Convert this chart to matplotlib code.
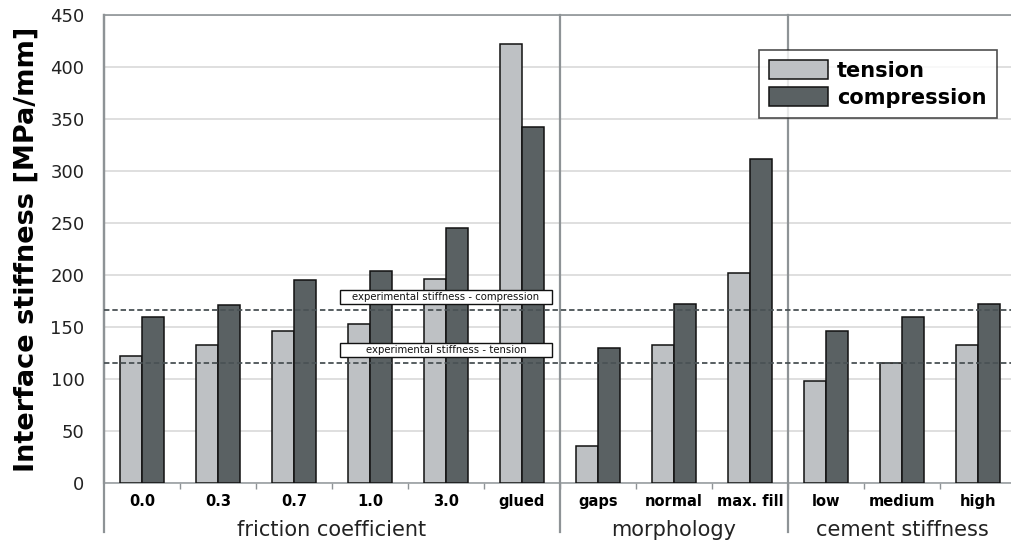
import matplotlib.pyplot as plt
import matplotlib.transforms as mtransforms
from matplotlib.patches import Rectangle
import numpy as np

# --- datos ---
categorias = ["0.0", "0.3", "0.7", "1.0", "3.0", "glued",
              "gaps", "normal", "max. fill",
              "low", "medium", "high"]
tension = [122, 133, 146, 153, 196, 422,
           36, 133, 202,
           98, 115, 133]
compresion = [160, 171, 195, 204, 245, 342,
              130, 172, 312,
              146, 160, 172]
grupos = ["friction coefficient", "morphology", "cement stiffness"]
tam_grupos = [6, 3, 3]
exp_compresion = 166
exp_tension = 115

color_t = "#bec1c4"
color_c = "#5a6163"
gris_eje = "#8e9396"

fig = plt.figure(figsize=(10.11, 5.48), dpi=100)
ax = fig.add_axes([104 / 1011, 65 / 548, 912 / 1011, 468 / 548])

x = np.arange(len(categorias))
w = 0.29
ax.bar(x - w / 2, tension, w, color=color_t, edgecolor="#111111",
       linewidth=1.1, label="tension", zorder=3)
ax.bar(x + w / 2, compresion, w, color=color_c, edgecolor="#111111",
       linewidth=1.1, label="compression", zorder=3)

ax.set_xlim(-0.5, len(categorias) - 0.5)
ax.set_ylim(0, 450)
ax.set_yticks(range(0, 451, 50))
ax.tick_params(axis="y", length=0, labelsize=13, pad=14, labelcolor="#222222")
ax.grid(axis="y", color="#d9d9d9", linewidth=1.2, zorder=0)
ax.set_axisbelow(True)

# etiquetas de categoria
ax.set_xticks(x)
ax.set_xticklabels(categorias, fontsize=10.5, fontweight="bold")
ax.tick_params(axis="x", length=0, pad=8)
ax.set_xticks(np.arange(0.5, len(categorias) - 0.5), minor=True)
ax.tick_params(axis="x", which="minor", length=4, color=gris_eje, width=1)

ax.spines["right"].set_visible(False)
ax.spines["top"].set_color(gris_eje)
ax.spines["top"].set_linewidth(1.2)
ax.spines["left"].set_color(gris_eje)
ax.spines["left"].set_linewidth(1.6)
ax.spines["bottom"].set_color("#9a9fa2")
ax.spines["bottom"].set_linewidth(1.2)

ax.set_ylabel("Interface stiffness [MPa/mm]", fontsize=19.5, fontweight="bold")
ax.yaxis.set_label_coords(-64 / 912, 0.5)

# separadores de grupo y nombres
trans = mtransforms.blended_transform_factory(ax.transData, ax.transAxes)
limites = [-0.5]
for n in tam_grupos:
    limites.append(limites[-1] + n)
for b in limites[:-1]:
    ax.plot([b, b], [1, -0.105], transform=trans, color=gris_eje,
            linewidth=1.6, clip_on=False, zorder=4)
for i, nombre in enumerate(grupos):
    centro = (limites[i] + limites[i + 1]) / 2
    ax.text(centro, -0.101, nombre, transform=trans, ha="center", va="center",
            fontsize=15, color="#222222")

# lineas experimentales
for val, txt in [(exp_compresion, "experimental stiffness - compression"),
                 (exp_tension, "experimental stiffness - tension")]:
    ax.axhline(val, color="#4a5255", linewidth=1.3, linestyle=(0, (3, 1.6)),
               zorder=4)
    ax.add_patch(Rectangle((4 - 1.395, val + 13 - 6.7), 2.79, 13.4,
                           facecolor="white", edgecolor="#111111",
                           linewidth=1.0, zorder=5))
    ax.text(4, val + 13, txt, ha="center", va="center", fontsize=7.3,
            color="#111111", zorder=6)

leg = ax.legend(loc="upper right", bbox_to_anchor=(893 / 912, 1 - 35 / 468),
                prop={"weight": "bold", "size": 15},
                frameon=True, fancybox=False, handlelength=2.8,
                handleheight=1.0, borderpad=0.5, labelspacing=0.3,
                handletextpad=0.45, borderaxespad=0)
leg.get_frame().set_edgecolor("#222222")
leg.get_frame().set_linewidth(1.2)

fig.savefig("out.png", dpi=100)
